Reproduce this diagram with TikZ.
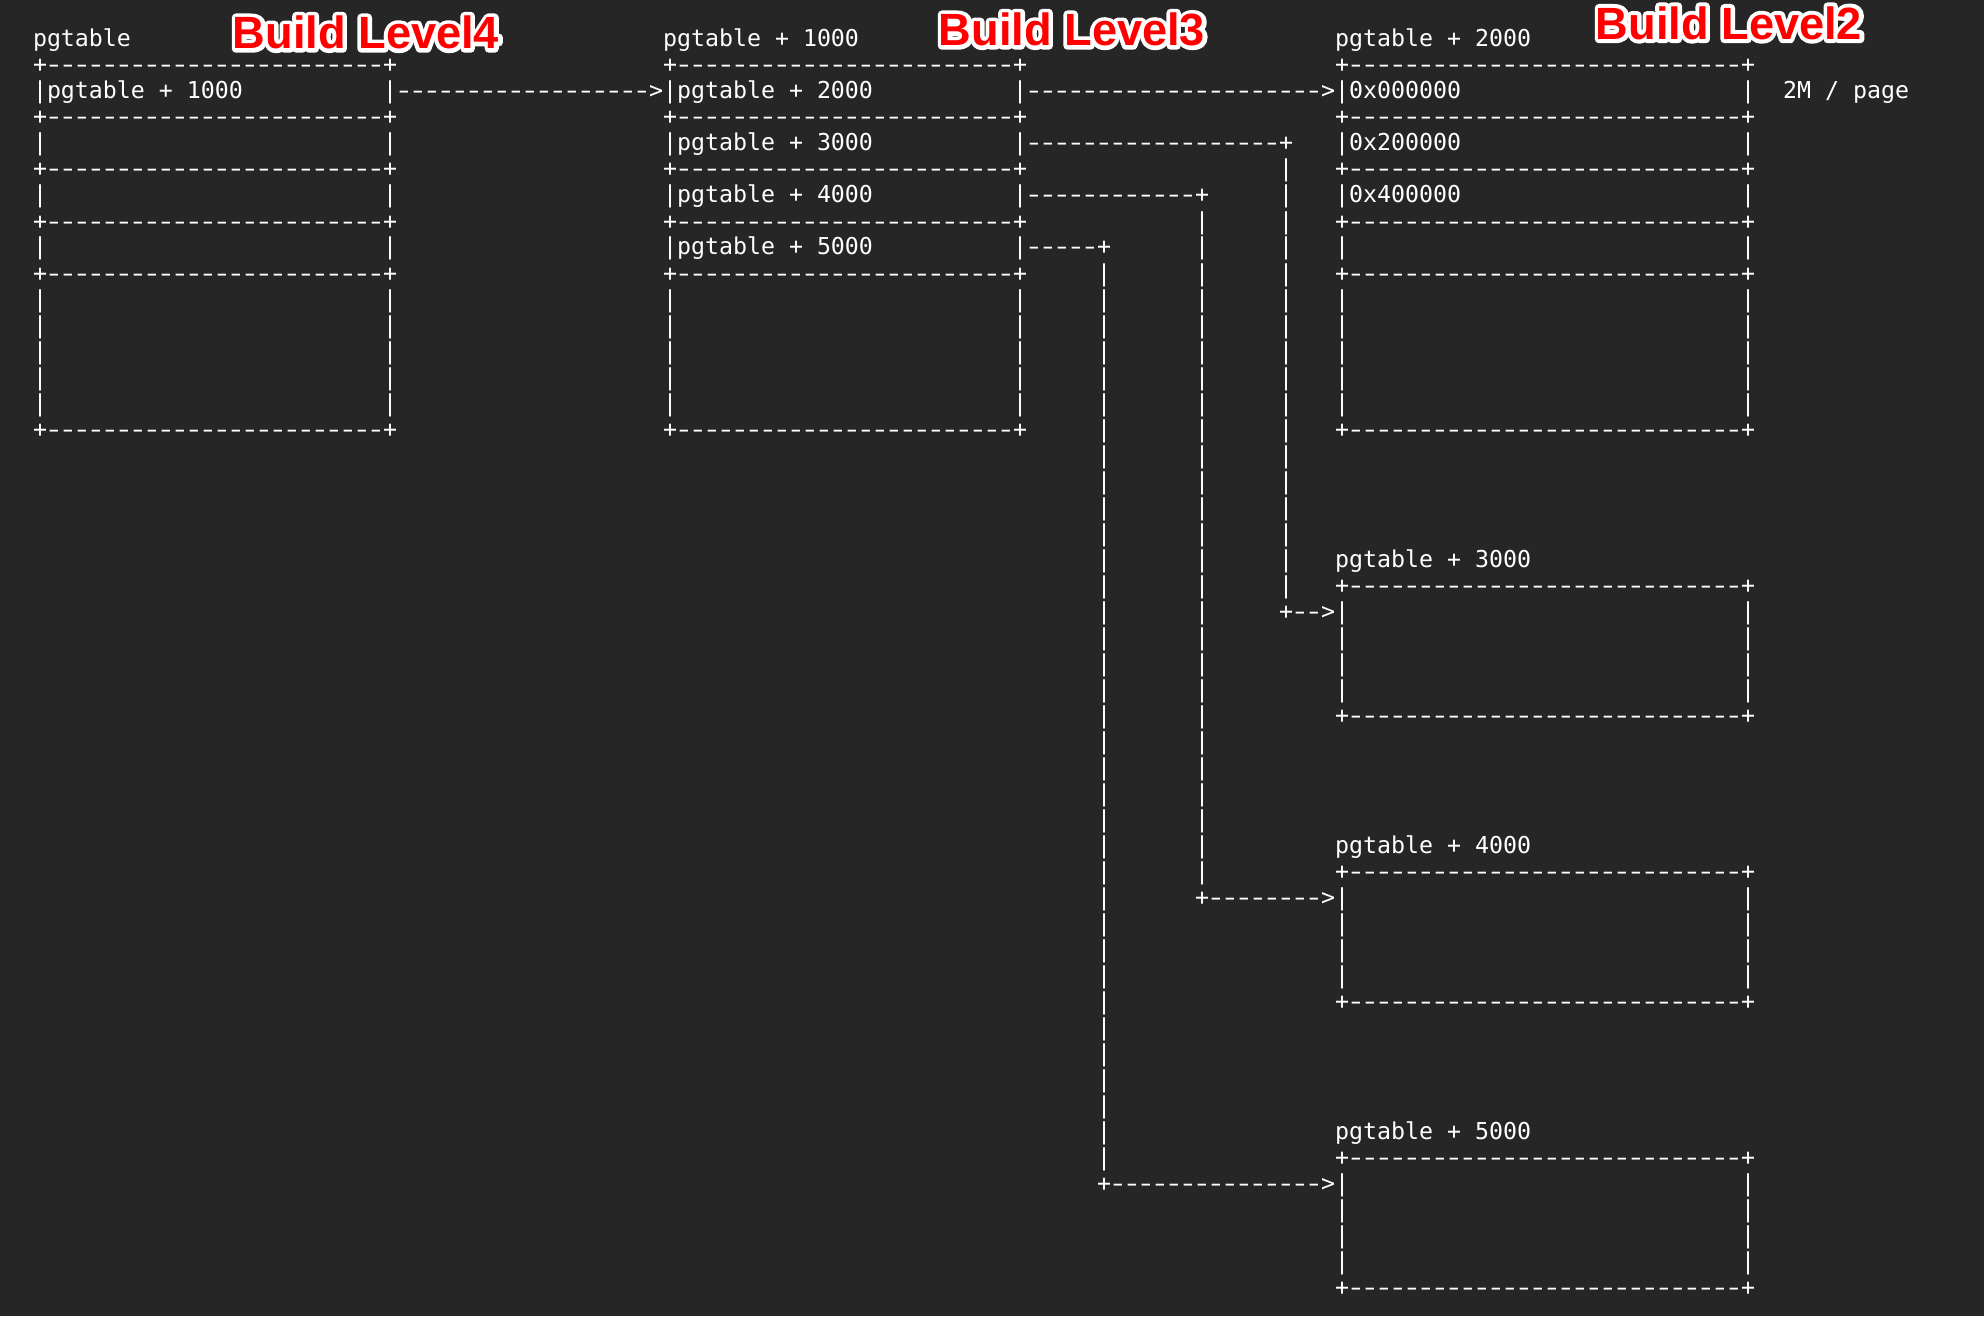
\documentclass[tikz,border=0pt]{standalone}
\usepackage{fontspec}
\usepackage{graphicx}
\setmonofont{DejaVu Sans Mono}
\newfontfamily\lblfont{Liberation Sans}
\newfontfamily\lblout{Liberation Sans}[FakeBold=18]
\definecolor{bg}{RGB}{38,38,38}
\definecolor{lblred}{RGB}{255,0,0}
\newcommand\rep[2]{\ifnum#1>0 #2\expandafter\rep\expandafter{\the\numexpr#1-1\relax}{#2}\fi}
% one dash of the character grid, a little longer than the font's hyphen
\newcommand\dsh{\makebox[7pt][c]{\scalebox{1.4}[1]{-}}}
% place text at column/row of the character grid
\newcommand\T[4]{\node[txt] (#1) at ({16.5+7*(#2)},{-23.5-13*(#3)}) {#4};}
\newcommand\HL[4]{\T{#1}{#2}{#3}{+\rep{#4}{\dsh}+}}
\newcommand\VL[4]{\foreach \rr in {#3,...,#4} {\T{#1-\rr}{#2}{\rr}{|}}}
\newcommand\Sides[5]{\VL{#1-l}{#2}{#4}{#5}\VL{#1-r}{#3}{#4}{#5}}
\newcommand\Lbl[4]{%
  \node[lbl,text=white,font=\lblout\bfseries\fontsize{22.6}{24}\selectfont] (#1-o) at (#2,#3) {\special{pdf:code 1 j 1 J}#4};
  \node[lbl,text=lblred] (#1) at (#2,#3) {#4};}
\begin{document}
\begin{tikzpicture}[x=1pt,y=1pt,
  txt/.style={anchor=base west,inner sep=0pt,outer sep=0pt,text=white,font=\ttfamily\fontsize{11.627}{13}\selectfont},
  lbl/.style={inner sep=0pt,outer sep=0pt,font=\lblfont\bfseries\fontsize{22.6}{24}\selectfont}]
\fill[bg] (0,0) rectangle (992,-658);
\useasboundingbox (0,0) rectangle (992,-658);

% ---------- Level 4 table ----------
\T{t4}{0}{0}{pgtable}
\HL{b4h1}{0}{1}{24}
\T{b4r2}{0}{2}{|pgtable + 1000}
\T{b4e2}{25}{2}{|}
\HL{b4h3}{0}{3}{24}
\Sides{b4s4}{0}{25}{4}{4}
\HL{b4h5}{0}{5}{24}
\Sides{b4s6}{0}{25}{6}{6}
\HL{b4h7}{0}{7}{24}
\Sides{b4s8}{0}{25}{8}{8}
\HL{b4h9}{0}{9}{24}
\Sides{b4s10}{0}{25}{10}{14}
\HL{b4h15}{0}{15}{24}

% ---------- Level 3 table ----------
\T{t3}{45}{0}{pgtable + 1000}
\HL{b3h1}{45}{1}{24}
\T{b3r2}{45}{2}{|pgtable + 2000}
\T{b3e2}{70}{2}{|}
\HL{b3h3}{45}{3}{24}
\T{b3r4}{45}{4}{|pgtable + 3000}
\T{b3e4}{70}{4}{|}
\HL{b3h5}{45}{5}{24}
\T{b3r6}{45}{6}{|pgtable + 4000}
\T{b3e6}{70}{6}{|}
\HL{b3h7}{45}{7}{24}
\T{b3r8}{45}{8}{|pgtable + 5000}
\T{b3e8}{70}{8}{|}
\HL{b3h9}{45}{9}{24}
\Sides{b3s10}{45}{70}{10}{14}
\HL{b3h15}{45}{15}{24}

% ---------- Level 2 table (pgtable + 2000) ----------
\T{t2}{93}{0}{pgtable + 2000}
\HL{b2h1}{93}{1}{28}
\T{b2r2}{93}{2}{|0x000000}
\T{b2e2}{122}{2}{|}
\T{page}{125}{2}{2M / page}
\HL{b2h3}{93}{3}{28}
\T{b2r4}{93}{4}{|0x200000}
\T{b2e4}{122}{4}{|}
\HL{b2h5}{93}{5}{28}
\T{b2r6}{93}{6}{|0x400000}
\T{b2e6}{122}{6}{|}
\HL{b2h7}{93}{7}{28}
\Sides{b2s8}{93}{122}{8}{8}
\HL{b2h9}{93}{9}{28}
\Sides{b2s10}{93}{122}{10}{14}
\HL{b2h15}{93}{15}{28}

% ---------- pgtable + 3000 ----------
\T{t23}{93}{20}{pgtable + 3000}
\HL{p3h1}{93}{21}{28}
\Sides{p3s}{93}{122}{22}{25}
\HL{p3h2}{93}{26}{28}

% ---------- pgtable + 4000 ----------
\T{t24}{93}{31}{pgtable + 4000}
\HL{p4h1}{93}{32}{28}
\Sides{p4s}{93}{122}{33}{36}
\HL{p4h2}{93}{37}{28}

% ---------- pgtable + 5000 ----------
\T{t25}{93}{42}{pgtable + 5000}
\HL{p5h1}{93}{43}{28}
\Sides{p5s}{93}{122}{44}{47}
\HL{p5h2}{93}{48}{28}

% ---------- connectors ----------
\T{c1}{26}{2}{\rep{18}{\dsh}>}
\T{c2}{71}{2}{\rep{21}{\dsh}>}
\T{c3a}{71}{4}{\rep{18}{\dsh}+}
\VL{c3v}{89}{5}{21}
\T{c3b}{89}{22}{+\rep{2}{\dsh}>}
\T{c4a}{71}{6}{\rep{12}{\dsh}+}
\VL{c4v}{83}{7}{32}
\T{c4b}{83}{33}{+\rep{8}{\dsh}>}
\T{c5a}{71}{8}{\rep{5}{\dsh}+}
\VL{c5v}{76}{9}{43}
\T{c5b}{76}{44}{+\rep{15}{\dsh}>}

% ---------- labels ----------
\Lbl{L4}{183}{-16.25}{Build Level4}
\Lbl{L3}{536}{-14.75}{Build Level3}
\Lbl{L2}{864.5}{-11.5}{Build Level2}
\end{tikzpicture}
\end{document}
